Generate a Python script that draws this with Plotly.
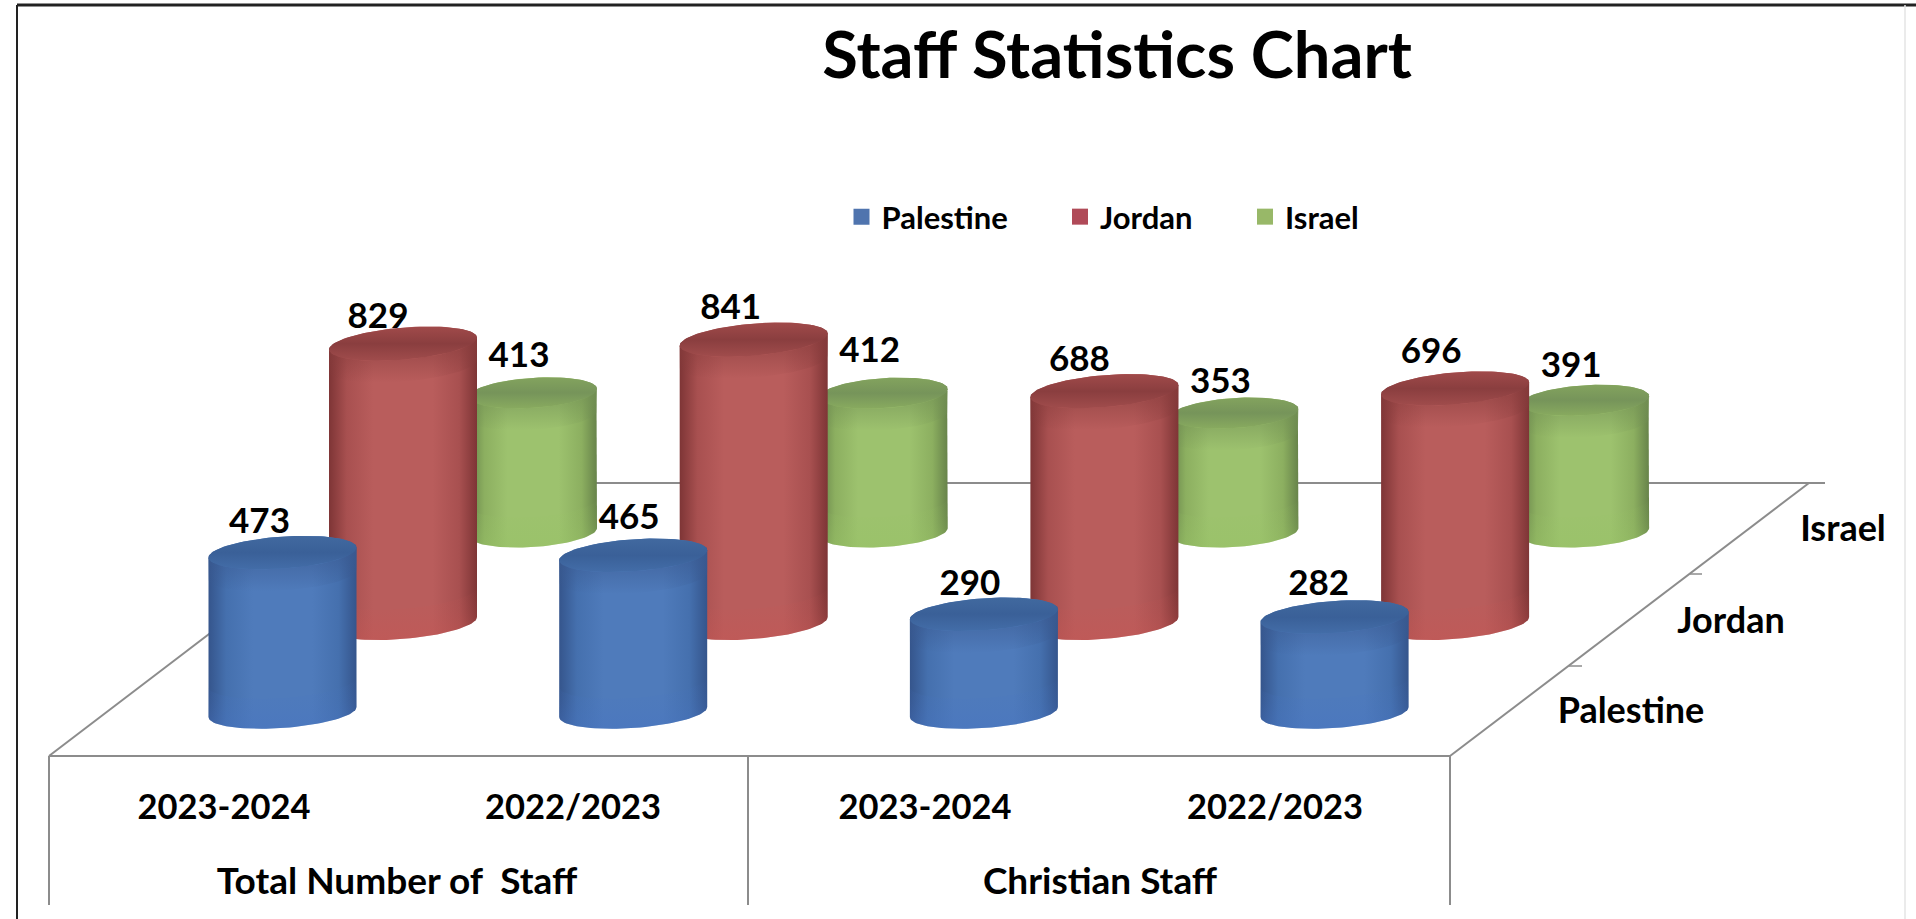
import numpy as np
import plotly.graph_objects as go

# ---- data ----
periods = ["2023-2024", "2022/2023", "2023-2024", "2022/2023"]
groups = ["Total Number of  Staff", "Christian Staff"]
series_names = ["Palestine", "Jordan", "Israel"]
palestine = [473, 465, 290, 282]
jordan = [829, 841, 688, 696]
israel = [413, 412, 353, 391]

W, H = 1916, 919
X_UNIT = 350.7          # px per category
Y_UNIT = 0.337          # px per staff member
X0_PX, Y0_PX = 282.5, 712.0   # px of Palestine first cylinder's base centre


def xval(px):
    return (px - X0_PX) / X_UNIT


def yval(px):
    return (Y0_PX - px) / Y_UNIT


# depth layout: x offset, base y, radii (all in px)
DEPTH = {
    "Palestine": dict(dx=0.0, base=712.0, a=74, b=16, t=5),
    "Jordan": dict(dx=120.5, base=623.0, a=74, b=16, t=6),
    "Israel": dict(dx=250.5, base=532.0, a=64, b=15, t=4),
}
STYLE = {
    "Palestine": dict(edge="#35558C", near="#4570AE", mid="#4F7BBB", capa="#41699F", capb="#3A6098", capc="#436DA8",
                      shade="58,90,145", glow="70,115,195", legend="#4F74AE"),
    "Jordan": dict(edge="#7E3536", near="#A85050", mid="#B95D5C", capa="#A04A4A", capb="#8A3E3F", capc="#A04C4C",
                   shade="135,60,60", glow="200,85,82", legend="#B04A58"),
    "Israel": dict(edge="#67834A", near="#8CAF60", mid="#9DC26E", capa="#83A35E", capb="#76945A", capc="#88AA5F",
                   shade="115,145,85", glow="150,195,100", legend="#98B868"),
}
VALUES = {"Palestine": palestine, "Jordan": jordan, "Israel": israel}
# small per-label placement nudges in px (dx, dy)
LABEL_NUDGE = {
    "Palestine": [(-23, 6), (-4, -1), (-14, 6), (-16, 4)],
    "Jordan": [(-25, 10), (-23, 5), (-25, 5), (-24, 0)],
    "Israel": [(-14, 0), (-14, -6), (-14, 6), (-14, 2)],
}

FONT = "Lato"
fig = go.Figure()
theta_low = np.linspace(np.pi, 2 * np.pi, 50)
theta_up = np.linspace(0, np.pi, 50)


def cylinder(name, i, value):
    d, s = DEPTH[name], STYLE[name]
    cx = i + xval(X0_PX + d["dx"])
    by = yval(d["base"])
    ax, bv, tv = d["a"] / X_UNIT, d["b"] / Y_UNIT, d["t"] / Y_UNIT
    ty = by + value
    xlow = cx + ax * np.cos(theta_low)
    ylow = bv * np.sin(theta_low) + tv * np.cos(theta_low)
    xs = np.concatenate([xlow, cx + ax * np.cos(theta_up)])
    ys = np.concatenate([by + ylow, ty + bv * np.sin(theta_up) + tv * np.cos(theta_up)])
    common = dict(mode="lines", line=dict(width=0), fill="toself", hoverinfo="skip", showlegend=False)
    fig.add_trace(go.Scatter(
        x=xs, y=ys,
        fillgradient=dict(type="horizontal", colorscale=[
            [0, s["edge"]], [0.12, s["near"]], [0.3, s["mid"]], [0.7, s["mid"]], [0.88, s["near"]], [1, s["edge"]]]),
        **common,
    ))
    # soft shading under the cap
    band = 22 / Y_UNIT
    fig.add_trace(go.Scatter(
        x=np.concatenate([xlow, xlow[::-1]]),
        y=np.concatenate([ty + ylow, ty + ylow[::-1] - band]),
        fillgradient=dict(type="vertical", colorscale=[
            [0, f"rgba({s['shade']},0)"], [1, f"rgba({s['shade']},0.75)"]]),
        **common,
    ))
    # brighter rim at the foot
    rim = 30 / Y_UNIT
    fig.add_trace(go.Scatter(
        x=np.concatenate([xlow, xlow[::-1]]),
        y=np.concatenate([by + ylow, by + ylow[::-1] + rim]),
        fillgradient=dict(type="vertical", colorscale=[
            [0, f"rgba({s['glow']},0.4)"], [0.5, f"rgba({s['glow']},0.15)"], [1, f"rgba({s['glow']},0)"]]),
        **common,
    ))
    th = np.linspace(0, 2 * np.pi, 90)
    fig.add_trace(go.Scatter(
        x=cx + ax * np.cos(th), y=ty + bv * np.sin(th) + tv * np.cos(th),
        fillgradient=dict(type="vertical", colorscale=[
            [0, s["capc"]], [0.5, s["capb"]], [1, s["capa"]]]),
        **common,
    ))


# back to front so nearer cylinders overlap farther ones
for name in ["Israel", "Jordan", "Palestine"]:
    for i, v in enumerate(VALUES[name]):
        cylinder(name, i, v)

# value labels
for name in series_names:
    d = DEPTH[name]
    cx = [i + xval(X0_PX + d["dx"]) + LABEL_NUDGE[name][i][0] / X_UNIT for i in range(4)]
    fig.add_trace(go.Scatter(
        x=cx,
        y=[yval(d["base"]) + v + 50 - LABEL_NUDGE[name][i][1] / Y_UNIT for i, v in enumerate(VALUES[name])],
        text=[str(v) for v in VALUES[name]], mode="text", textposition="top center",
        textfont=dict(family=FONT, size=35, color="#000000", weight=700),
        hoverinfo="skip", showlegend=False,
    ))

# category labels
fig.add_trace(go.Scatter(
    x=[xval(p) for p in (224, 573, 925, 1275)], y=[yval(810)] * 4, text=periods, mode="text",
    textfont=dict(family=FONT, size=34.5, color="#000000", weight=700), hoverinfo="skip", showlegend=False,
))
fig.add_trace(go.Scatter(
    x=[xval(p) for p in (397, 1100)], y=[yval(885)] * 2, text=groups, mode="text",
    textfont=dict(family=FONT, size=37, color="#000000", weight=700), hoverinfo="skip", showlegend=False,
))
fig.add_trace(go.Scatter(
    x=[xval(p) for p in (1843, 1731, 1631)], y=[yval(p) for p in (532, 624, 714)],
    text=["Israel", "Jordan", "Palestine"], mode="text",
    textfont=dict(family=FONT, size=36, color="#000000", weight=700), hoverinfo="skip", showlegend=False,
))

# legend: one legend per entry, placed separately
legend_x = {"Palestine": 841.5, "Jordan": 1060, "Israel": 1245}
layout_legends = {}
for k, name in enumerate(series_names):
    lname = "legend" if k == 0 else f"legend{k + 1}"
    fig.add_trace(go.Scatter(
        x=[None], y=[None], mode="markers", name=name, legend=lname,
        marker=dict(symbol="square", size=17, color=STYLE[name]["legend"]),
    ))
    layout_legends[lname] = dict(
        x=legend_x[name] / W, y=1 - 217 / H, xanchor="left", yanchor="middle",
        bgcolor="rgba(0,0,0,0)", font=dict(family=FONT, size=31, color="#000000", weight=700),
    )

GREY = "#8C8C8C"


def seg(x0, y0, x1, y1, color=GREY, width=2):
    return dict(type="line", xref="paper", yref="paper", x0=x0 / W, x1=x1 / W,
                y0=1 - y0 / H, y1=1 - y1 / H, line=dict(color=color, width=width), layer="below")


shapes = [
    seg(17, 5, 17, 919, "#222222", 2),
    seg(17, 5, 1916, 5, "#222222", 3),
    seg(1905, 5, 1905, 919, "#E4E4E4", 1.5),
    seg(49, 756, 407, 483),      # floor left
    seg(49, 756, 1450, 756),     # floor front
    seg(1450, 756, 1809, 483),   # floor right
    seg(407, 483, 1825, 483),    # floor back
    seg(49, 756, 49, 905),
    seg(748, 756, 748, 905),
    seg(1450, 756, 1450, 905),
    seg(1569, 666, 1582, 666, GREY, 1.5),
    seg(1690, 574, 1702, 574, GREY, 1.5),
]

fig.update_layout(
    width=W,
    height=H,
    title=dict(text="Staff Statistics Chart", x=1117 / W, xanchor="center", y=1 - 55 / H, yanchor="middle",
               font=dict(family=FONT, size=65, color="#000000", weight=700)),
    margin=dict(l=0, r=0, t=0, b=0),
    paper_bgcolor="#FFFFFF",
    plot_bgcolor="#FFFFFF",
    xaxis=dict(visible=False, range=[xval(0), xval(W)], fixedrange=True),
    yaxis=dict(visible=False, range=[yval(H), yval(0)], fixedrange=True),
    shapes=shapes,
    showlegend=True,
    **layout_legends,
)

fig.write_html("out.html", config={"displayModeBar": False},
               post_script="document.body.style.margin='0';document.body.style.overflow='hidden';")
